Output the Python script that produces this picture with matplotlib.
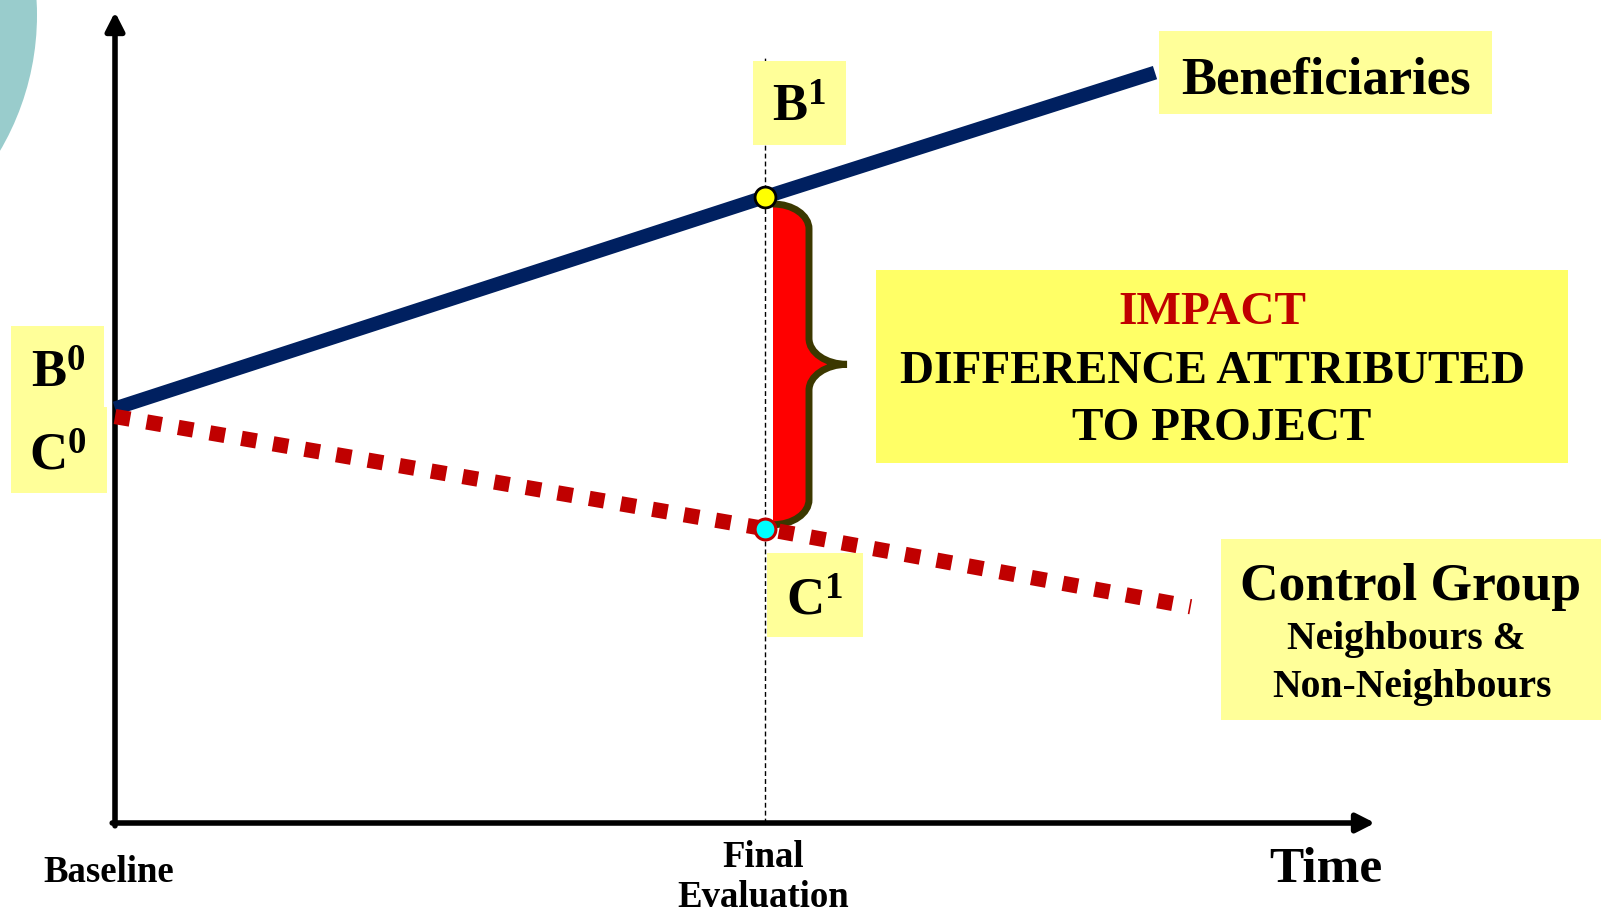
# Impact evaluation diagram: beneficiaries vs control group over time
import matplotlib.pyplot as plt
from matplotlib.patches import Rectangle, Circle, PathPatch
from matplotlib.path import Path
from matplotlib.transforms import Affine2D, blended_transform_factory

# 1) data ---------------------------------------------------------------------
time_benef = [0.0, 1.0, 1.6]        # baseline, final evaluation, end of line
benef = [51.0, 77.0, 92.3]
time_ctrl = [0.0, 1.0, 1.655]
ctrl = [50.0, 36.2, 26.6]
t_final = 1.0

period_pos = [0.0, 1.0]
period_labels = ["Baseline", "Final\nEvaluation"]

# 2) canvas -------------------------------------------------------------------
W, H = 1601, 914
X0, SX = 115, 650      # px of t=0, px per time unit
Y0, SY = 823, 8.13     # px of outcome 0, px per outcome unit

plt.rcParams['font.family'] = ['Liberation Serif', 'DejaVu Serif']
plt.rcParams['font.weight'] = 'bold'
plt.rcParams['mathtext.default'] = 'regular'

fig = plt.figure(figsize=(W / 100, H / 100), dpi=100)
ax = fig.add_axes([0, 0, 1, 1])
ax.set_xlim(-X0 / SX, (W - X0) / SX)
ax.set_ylim((Y0 - H) / SY, Y0 / SY)
ax.axis('off')

# pixel coords (origin top-left) for layout items
pix = Affine2D().scale(1 / W, -1 / H).translate(0, 1) + fig.transFigure
xdata_ypix = blended_transform_factory(ax.transData, pix)

# decorative teal disc in the corner
ax.add_patch(Circle((-231, 15), 268, transform=pix, color='#99CCCC', lw=0, zorder=0))

# 3) axes with arrows ---------------------------------------------------------
arrow_kw = dict(arrowstyle='-|>,head_length=0.55,head_width=0.28', color='k', lw=4,
                mutation_scale=20, shrinkA=0, shrinkB=0)
ax.annotate('', xy=(0, (Y0 - 12) / SY), xytext=(0, -2.8 / SY), arrowprops=arrow_kw)
ax.annotate('', xy=((1375 - X0) / SX, 0), xytext=(-2.8 / SX, 0), arrowprops=arrow_kw)

ax.axvline(t_final, ymin=1 - Y0 / H, ymax=1 - 58 / H, color='k', lw=1,
           ls=(0, (3.5, 2.2)), zorder=1)

# 4) impact brace -------------------------------------------------------------
def brace(x0, y_top, y_bot, rx, tip, ry, ry2, closed=False):
    k = 0.5523
    xr, xt = x0 + rx, x0 + tip
    ym = (y_top + y_bot) / 2
    verts = [(x0, y_top),
             (x0 + k * rx, y_top), (xr, y_top - ry + k * ry), (xr, y_top - ry),
             (xr, ym + ry2),
             (xr, ym + ry2 - k * ry2), (xt - k * (xt - xr), ym), (xt, ym),
             (xt - k * (xt - xr), ym), (xr, ym - ry2 + k * ry2), (xr, ym - ry2),
             (xr, y_bot + ry),
             (xr, y_bot + ry - k * ry), (x0 + k * rx, y_bot), (x0, y_bot)]
    C = Path.CURVE4
    codes = [Path.MOVETO, C, C, C, Path.LINETO, C, C, C, C, C, C, Path.LINETO, C, C, C]
    if closed:
        verts += [(x0, y_top), (x0, y_top)]
        codes += [Path.LINETO, Path.CLOSEPOLY]
    return Path(verts, codes)

b_args = (t_final + 8 / SX, benef[1] - 7 / SY, ctrl[1] + 4 / SY,
          36 / SX, 74 / SX, 25 / SY, 26 / SY)
ax.add_patch(PathPatch(brace(*b_args, closed=True), fc='#FF0000', ec='none', zorder=2))
ax.add_patch(PathPatch(brace(*b_args), fc='none', ec='#3B3800', lw=5,
                       capstyle='round', zorder=2.5))

# 5) series -------------------------------------------------------------------
ax.plot(time_benef, benef, color='#002060', lw=10, solid_capstyle='butt', zorder=3)
ax.plot(time_ctrl, ctrl, color='#C00000', lw=11, ls=(0, (1, 1.1)),
        dash_capstyle='butt', zorder=3)
ax.plot(t_final, benef[1], 'o', ms=15, mfc='#FFFF00', mec='k', mew=2, zorder=5)
ax.plot(t_final, ctrl[1], 'o', ms=15, mfc='#00FFFF', mec='#C00000', mew=2.2, zorder=5)

# 6) labels and boxes ---------------------------------------------------------
def box(x, y, w, h, fc='#FFFF99'):
    ax.add_patch(Rectangle((x, y), w, h, transform=pix, fc=fc, ec='none', zorder=1))

def label(x, y, s, size, color='k'):
    ax.text(x, y, s, transform=pix, ha='center', va='baseline', fontsize=size,
            fontweight='bold', color=color, zorder=6)

box(753, 61, 93, 84)
label(799, 122, "B$^{1}$", 38)
box(11, 326, 93, 82)
box(11, 407, 96, 86)
label(58, 388, "B$^{0}$", 38)
label(58, 470, "C$^{0}$", 38)
box(767, 553, 96, 84)
label(815, 615, "C$^{1}$", 38)

box(1159, 31, 333, 83)
label(1326, 93, "Beneficiaries", 38)

box(876, 270, 692, 193, fc='#FFFF66')
label(1212, 324, "IMPACT", 34, color='#C00000')
label(1212, 383, "DIFFERENCE ATTRIBUTED", 34)
label(1222, 440, "TO PROJECT", 34)

box(1221, 539, 380, 181)
label(1411, 600, "Control Group", 38.5)
label(1406, 649, "Neighbours &", 28.5)
label(1412, 697, "Non-Neighbours", 28.5)

# period labels under the time axis
for t, lab in zip(period_pos, period_labels):
    for i, line in enumerate(lab.split("\n")):
        ax.text(t - (6 if t == 0 else 2) / SX, [882, 867][t == 1.0] + 40 * i, line,
                transform=xdata_ypix, ha='center', va='baseline', fontsize=26.5,
                fontweight='bold', zorder=6)
label(1326, 882, "Time", 37)

fig.savefig("out.png", dpi=100)
